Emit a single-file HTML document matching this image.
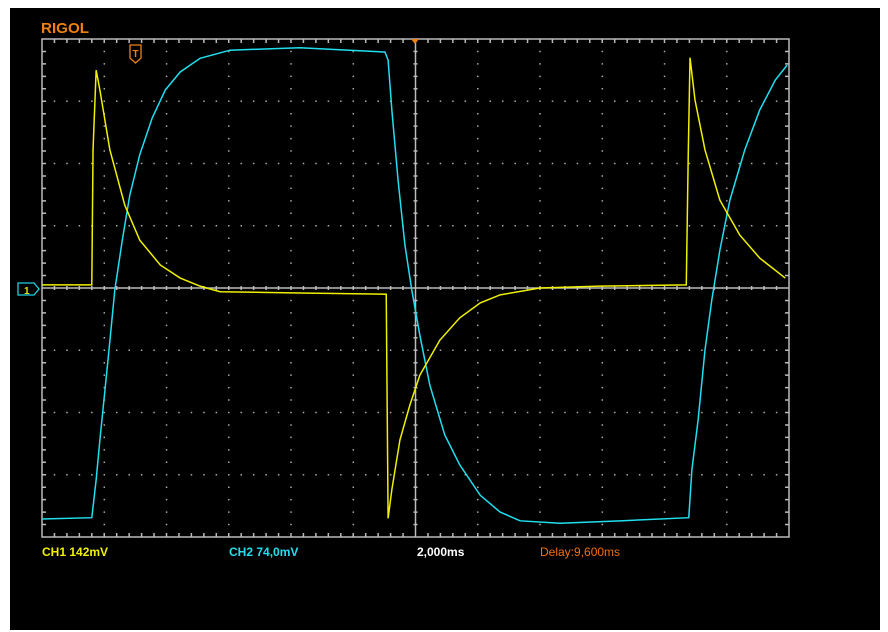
<!DOCTYPE html>
<html><head><meta charset="utf-8"><style>
html,body{margin:0;padding:0;background:#fff;width:888px;height:632px;overflow:hidden}
svg{display:block}
text{font-family:"Liberation Sans",sans-serif;font-weight:bold}
</style></head><body>
<svg id="scope" width="888" height="632">
<rect x="10" y="8" width="870" height="622" fill="#000"/>
<text x="41" y="33" fill="#f08010" font-size="15" textLength="48" lengthAdjust="spacingAndGlyphs">RIGOL</text>
<g id="grid"></g>
<g id="traces"></g>
<g>
<path d="M130,45 h11 v13 l-5.5,5 l-5.5,-5 z" fill="none" stroke="#f08010" stroke-width="1.3"/>
<text x="132.5" y="57" fill="#f08010" font-size="10">T</text>
</g>
<path d="M411,39 h8 l-4,5 z" fill="#f08010"/>
<g>
<path d="M18,283 h16 l5,6 l-5,6 h-16 z" fill="none" stroke="#20d0e0" stroke-width="1.3"/>
<text x="24" y="294" fill="#e0e000" font-size="10">1</text>
</g>
<text x="42" y="556" fill="#f0f000" font-size="12">CH1 142mV</text>
<text x="229" y="556" fill="#20e0f0" font-size="12">CH2 74,0mV</text>
<text x="417" y="556" fill="#fff" font-size="12">2,000ms</text>
<text x="540" y="556" fill="#f07010" font-size="12" font-weight="normal" style="font-weight:normal">Delay:9,600ms</text>
</svg>
<script>
const ch1Time=[0,0.80,0.82,0.87,0.93,1.09,1.33,1.57,1.90,2.22,2.54,2.86,4.14,5.53,5.56,5.62,5.75,5.91,6.07,6.39,6.71,7.04,7.36,8.00,8.96,10.35,10.38,10.41,10.49,10.65,10.89,11.21,11.53,11.94];
const ch1Volt=[0.05,0.05,2.22,3.50,3.18,2.22,1.33,0.77,0.37,0.16,0.03,-0.06,-0.08,-0.10,-3.70,-3.24,-2.44,-1.88,-1.40,-0.84,-0.48,-0.24,-0.11,0,0.03,0.05,2.06,3.70,3.02,2.22,1.41,0.85,0.48,0.16];
const ch2Time=[0,0.80,0.87,0.93,1.06,1.17,1.29,1.41,1.57,1.77,1.98,2.22,2.54,3.02,4.14,5.51,5.56,5.62,5.72,5.83,5.94,6.07,6.23,6.47,6.71,7.04,7.36,7.68,8.32,9.29,10.39,10.44,10.54,10.65,10.76,10.89,11.05,11.29,11.53,11.78,11.97];
const ch2Volt=[-3.71,-3.69,-3.08,-2.44,-1.16,-0.03,0.77,1.49,2.14,2.73,3.18,3.47,3.69,3.82,3.86,3.79,3.66,2.86,1.73,0.69,-0.03,-0.76,-1.56,-2.36,-2.84,-3.33,-3.60,-3.74,-3.78,-3.74,-3.69,-2.92,-2.12,-1.00,-0.19,0.61,1.41,2.22,2.86,3.34,3.58];
const X0=42,Y0=39,DIV=62.25,HDIV=12,VDIV=8;
const xs=t=>X0+t*DIV, ys=v=>Y0+4*DIV-v*DIV;
const NS="http://www.w3.org/2000/svg";
const grid=document.getElementById('grid'),tr=document.getElementById('traces');
let d='';
for(let i=1;i<HDIV;i++){for(let k=1;k<VDIV*5;k++){if(k%5===0)continue;}}
let dots='';
for(let i=1;i<HDIV;i++)for(let k=1;k<VDIV*5;k++){if(i===6)continue;dots+=`M${xs(i)-0.7},${Y0+k*DIV/5}h1.5`;}
for(let j=1;j<VDIV;j++)for(let k=1;k<HDIV*5;k++){if(j===4)continue;dots+=`M${X0+k*DIV/5-0.7},${ys(4-j)}h1.5`;}
const dp=document.createElementNS(NS,'path');dp.setAttribute('d',dots);dp.setAttribute('stroke','#aaa');dp.setAttribute('stroke-width','1.5');


grid.appendChild(dp);
let ax=`M${X0},${Y0}h${HDIV*DIV}v${VDIV*DIV}h${-HDIV*DIV}z M${xs(6)},${Y0}v${VDIV*DIV} M${X0},${ys(0)}h${HDIV*DIV}`;
for(let k=1;k<HDIV*5;k++){const x=X0+k*DIV/5;ax+=`M${x},${Y0}v4 M${x},${Y0+VDIV*DIV}v-4 M${x},${ys(0)-2}v4`;}
for(let k=1;k<VDIV*5;k++){const y=Y0+k*DIV/5;ax+=`M${X0},${y}h4 M${X0+HDIV*DIV},${y}h-4 M${xs(6)-2},${y}h4`;}
const ap=document.createElementNS(NS,'path');ap.setAttribute('d',ax);ap.setAttribute('stroke','#bbb');ap.setAttribute('stroke-width','1.5');ap.setAttribute('fill','none');


grid.appendChild(ap);
function trace(T,V,c){const p=document.createElementNS(NS,'polyline');p.setAttribute('points',T.map((t,i)=>xs(t)+','+ys(V[i])).join(' '));p.setAttribute('fill','none');p.setAttribute('stroke',c);p.setAttribute('stroke-width','1.5');tr.appendChild(p);return p;}
const p2=trace(ch2Time,ch2Volt,'#20e0f0');


const p1=trace(ch1Time,ch1Volt,'#f0f000');


</script>
</body></html>
